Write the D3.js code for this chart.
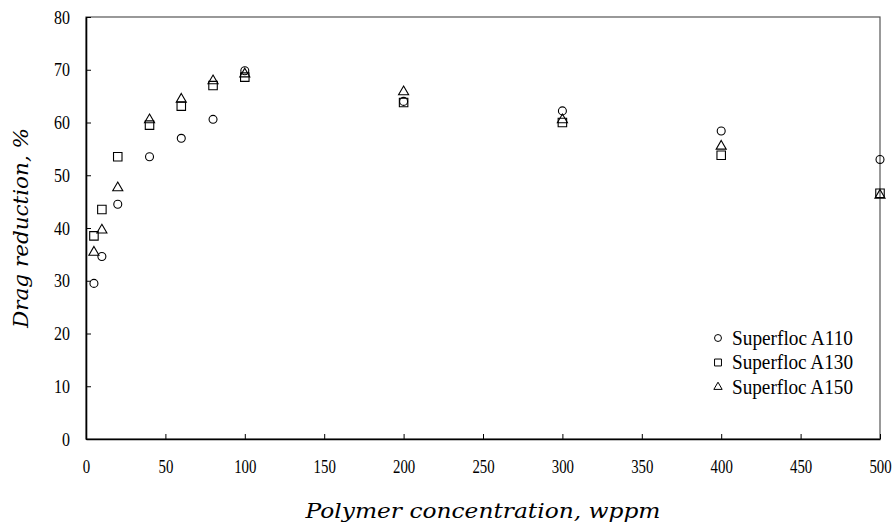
<!DOCTYPE html>
<html>
<head>
<meta charset="utf-8">
<script src="https://cdn.jsdelivr.net/npm/d3@7"></script>
<style>
  body { margin: 0; background: #fff; }
  svg { display: block; }
</style>
</head>
<body>
<script>
// chart size and plot box
const w = 894;
const h = 528;
const padL = 86, padR = 880, padT = 17, padB = 439;

// data
const conc = [5, 10, 20, 40, 60, 80, 100, 200, 300, 400, 500];
const a110 = [29.5, 34.6, 44.5, 53.5, 57.0, 60.6, 69.8, 64.0, 62.2, 58.4, 53.0];
const a130 = [38.5, 43.5, 53.5, 59.5, 63.1, 67.0, 68.6, 63.8, 60.0, 53.8, 46.6];
const a150 = [35.4, 39.6, 47.6, 60.5, 64.4, 67.9, 69.2, 65.8, 60.5, 55.5, 46.2];
const seriesNames = ["Superfloc A110", "Superfloc A130", "Superfloc A150"];
const xTicks = [0, 50, 100, 150, 200, 250, 300, 350, 400, 450, 500];
const yTicks = [0, 10, 20, 30, 40, 50, 60, 70, 80];

const series = [
  {name: seriesNames[0], values: a110, shape: d3.symbolCircle, size: 50, lsize: 38},
  {name: seriesNames[1], values: a130, shape: d3.symbolSquare, size: 72, lsize: 48},
  {name: seriesNames[2], values: a150, shape: d3.symbolTriangle, size: 44, lsize: 30}
];

const svg = d3.select("body")
  .append("svg")
  .attr("width", w)
  .attr("height", h);

const x = d3.scaleLinear().domain([0, 500]).range([padL, padR]);
const y = d3.scaleLinear().domain([0, 80]).range([padB, padT]);

// squeeze text a bit, the original type is narrow
function squeeze(sel, k) {
  sel.each(function() {
    const len = this.getComputedTextLength();
    d3.select(this).attr("textLength", len * k).attr("lengthAdjust", "spacingAndGlyphs");
  });
}

// frame (top/right grey)
svg.append("rect")
  .attr("x", padL).attr("y", padT)
  .attr("width", padR - padL).attr("height", padB - padT)
  .attr("fill", "none")
  .attr("stroke", "#555")
  .attr("stroke-width", 1.2);

const xAxis = d3.axisBottom(x).tickValues(xTicks).tickSizeInner(-5).tickSizeOuter(0).tickPadding(21);
const yAxis = d3.axisLeft(y).tickValues(yTicks).tickSizeInner(-5).tickSizeOuter(0).tickPadding(16);

const gx = svg.append("g")
  .attr("transform", "translate(0," + padB + ")")
  .call(xAxis);
const gy = svg.append("g")
  .attr("transform", "translate(" + padL + ",0)")
  .call(yAxis);

[gx, gy].forEach(g => {
  g.select(".domain").attr("stroke", "#000").attr("stroke-width", 1.6);
  g.selectAll(".tick line").attr("stroke", "#000").attr("stroke-width", 1);
  g.selectAll(".tick text")
    .attr("fill", "#000")
    .style("font-family", "'Liberation Serif', 'Times New Roman', serif")
    .style("font-size", "19px");
});
squeeze(gy.selectAll(".tick text"), 0.84);
squeeze(gx.selectAll(".tick text"), 0.78);

// points
series.forEach(s => {
  svg.append("g")
    .selectAll("path")
    .data(conc.map((c, i) => [c, s.values[i]]))
    .enter()
    .append("path")
    .attr("d", d3.symbol().type(s.shape).size(s.size))
    .attr("transform", d => "translate(" + x(d[0]) + "," + y(d[1]) + ")")
    .attr("fill", "none")
    .attr("stroke", "#000")
    .attr("stroke-width", 1.1);
});

// legend
const legend = svg.append("g").attr("transform", "translate(718,338)");
series.forEach((s, i) => {
  const row = legend.append("g").attr("transform", "translate(0," + (i * 24.5) + ")");
  row.append("path")
    .attr("d", d3.symbol().type(s.shape).size(s.lsize))
    .attr("fill", "none")
    .attr("stroke", "#000")
    .attr("stroke-width", 1);
  row.append("text")
    .attr("x", 14)
    .attr("y", 6.5)
    .attr("textLength", 121)
    .attr("lengthAdjust", "spacingAndGlyphs")
    .style("font-family", "'Liberation Serif', 'Times New Roman', serif")
    .style("font-size", "20px")
    .text(s.name);
});

// axis titles
svg.append("text")
  .attr("id", "x-title")
  .attr("x", (padL + padR) / 2)
  .attr("y", 518)
  .attr("text-anchor", "middle")
  .style("font-family", "'DejaVu Serif', serif")
  .style("font-style", "italic")
  .style("font-size", "20px")
  .text("Polymer concentration, wppm");

svg.append("text")
  .attr("id", "y-title")
  .attr("transform", "translate(28," + ((padT + padB) / 2) + ") rotate(-90)")
  .attr("text-anchor", "middle")
  .style("font-family", "'DejaVu Serif', serif")
  .style("font-style", "italic")
  .style("font-size", "20px")
  .text("Drag reduction, %");

d3.select("#x-title").attr("textLength", 355).attr("lengthAdjust", "spacingAndGlyphs");
d3.select("#y-title").attr("textLength", 200).attr("lengthAdjust", "spacingAndGlyphs");
</script>
</body>
</html>
